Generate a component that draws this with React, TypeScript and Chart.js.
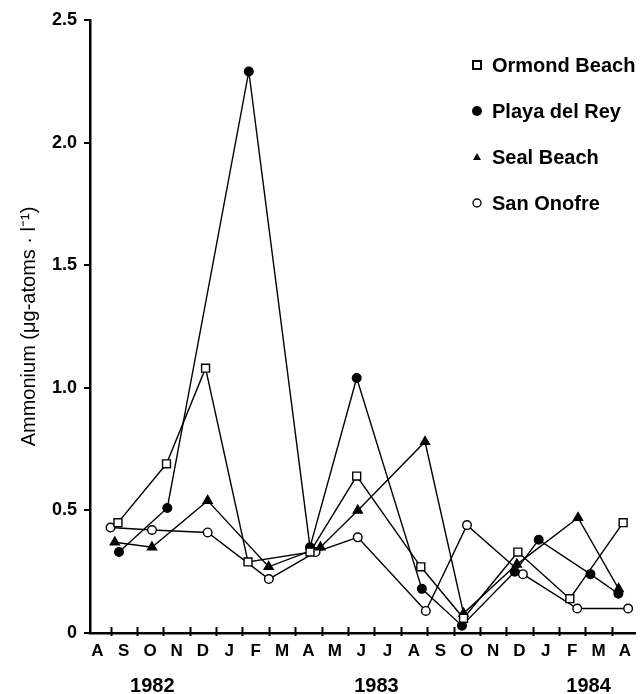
import React, { useEffect, useRef } from 'react';
import { Chart, registerables } from 'chart.js';

Chart.register(...registerables);

// Months from 1 Aug 1982 (0) to Apr 1984; label k sits at the middle of month k
const monthLabels = ['A', 'S', 'O', 'N', 'D', 'J', 'F', 'M', 'A', 'M', 'J', 'J', 'A', 'S', 'O', 'N', 'D', 'J', 'F', 'M', 'A'];
const yearLabels = ['1982', '1983', '1984'];
const yearCenters = [2.58, 11.08, 19.12];
const seriesNames = ['Ormond Beach', 'Playa del Rey', 'Seal Beach', 'San Onofre'];

// sampling dates (months since 1 Aug 1982) and ammonium values
const ormondX = [1.28, 3.12, 4.6, 6.21, 8.56, 10.33, 12.76, 14.38, 16.44, 18.41, 20.43];
const ormondY = [0.45, 0.69, 1.08, 0.29, 0.33, 0.64, 0.27, 0.06, 0.33, 0.14, 0.45];
const playaX = [1.32, 3.15, 6.24, 8.56, 10.33, 12.8, 14.32, 16.32, 17.23, 19.19, 20.25];
const playaY = [0.33, 0.51, 2.29, 0.35, 1.04, 0.18, 0.03, 0.25, 0.38, 0.24, 0.16];
const sealX = [1.16, 2.57, 4.68, 6.99, 8.96, 10.37, 12.92, 14.38, 16.4, 18.72, 20.26];
const sealY = [0.37, 0.35, 0.54, 0.27, 0.35, 0.5, 0.78, 0.08, 0.28, 0.47, 0.18];
const sanX = [1.0, 2.57, 4.68, 7.0, 8.77, 10.37, 12.95, 14.51, 16.63, 18.69, 20.62];
const sanY = [0.43, 0.42, 0.41, 0.22, 0.33, 0.39, 0.09, 0.44, 0.24, 0.1, 0.1];

const FONT = '"Liberation Sans", Arial, Helvetica, sans-serif';

const pts = (xs: number[], ys: number[]) => xs.map((x, i) => ({ x, y: ys[i] }));

const decorPlugin = {
  id: 'decor',
  afterDraw(chart: any) {
    const { ctx, chartArea } = chart;
    const x = chart.scales.x;
    const bottom = chartArea.bottom;
    ctx.save();
    // month boundary tick marks crossing the axis
    ctx.strokeStyle = '#000';
    ctx.lineWidth = 2;
    for (let k = 1; k <= monthLabels.length - 1; k++) {
      const px = Math.round(x.getPixelForValue(k)) + 0.5;
      ctx.beginPath();
      ctx.moveTo(px, bottom - 6);
      ctx.lineTo(px, bottom + 3);
      ctx.stroke();
    }
    // month labels
    ctx.fillStyle = '#000';
    ctx.textAlign = 'center';
    ctx.textBaseline = 'middle';
    ctx.font = `bold 17px ${FONT}`;
    monthLabels.forEach((l, i) => {
      ctx.fillText(l, x.getPixelForValue(i + 0.5), bottom + 18);
    });
    // year labels
    ctx.font = `bold 20px ${FONT}`;
    yearLabels.forEach((l, i) => {
      ctx.fillText(l, x.getPixelForValue(yearCenters[i]), bottom + 53);
    });
    // legend
    ctx.textAlign = 'left';
    ctx.font = `bold 20px ${FONT}`;
    const mx = 477;
    chart.data.datasets.forEach((ds: any, i: number) => {
      const cy = 65 + i * 46;
      ctx.lineWidth = 2;
      ctx.strokeStyle = '#000';
      ctx.fillStyle = '#000';
      if (i === 0) {
        ctx.fillStyle = '#fff';
        ctx.fillRect(mx - 4, cy - 4, 8, 8);
        ctx.strokeRect(mx - 4, cy - 4, 8, 8);
      } else if (i === 1) {
        ctx.beginPath();
        ctx.arc(mx, cy, 5, 0, Math.PI * 2);
        ctx.fill();
      } else if (i === 2) {
        ctx.beginPath();
        ctx.moveTo(mx, cy - 4);
        ctx.lineTo(mx + 4, cy + 3);
        ctx.lineTo(mx - 4, cy + 3);
        ctx.closePath();
        ctx.fill();
      } else {
        ctx.lineWidth = 1.3;
        ctx.beginPath();
        ctx.arc(mx, cy, 4, 0, Math.PI * 2);
        ctx.stroke();
      }
      ctx.fillStyle = '#000';
      ctx.fillText(ds.label, 492, cy + 1);
    });
    ctx.restore();
  },
};

export default function App() {
  const ref = useRef<HTMLCanvasElement | null>(null);

  useEffect(() => {
    if (!ref.current) return;
    const common = {
      borderColor: '#000',
      borderWidth: 1.4,
      pointBorderColor: '#000',
      pointBorderWidth: 1.4,
      tension: 0,
      fill: false,
    };
    const chart = new Chart(ref.current, {
      type: 'line',
      data: {
        datasets: [
          {
            ...common,
            label: seriesNames[0],
            data: pts(ormondX, ormondY),
            pointStyle: 'rect',
            pointRadius: 5.6,
            pointBackgroundColor: '#fff',
          },
          {
            ...common,
            label: seriesNames[1],
            data: pts(playaX, playaY),
            pointStyle: 'circle',
            pointRadius: 4.3,
            pointBackgroundColor: '#000',
          },
          {
            ...common,
            label: seriesNames[2],
            data: pts(sealX, sealY),
            pointStyle: 'triangle',
            pointRadius: 5.2,
            pointBackgroundColor: '#000',
          },
          {
            ...common,
            label: seriesNames[3],
            data: pts(sanX, sanY),
            pointStyle: 'circle',
            pointRadius: 4.3,
            pointBackgroundColor: '#fff',
          },
        ],
      },
      options: {
        animation: false,
        responsive: false,
        devicePixelRatio: 1,
        layout: { padding: { top: 20, left: 0, right: 0, bottom: 0 } },
        plugins: {
          legend: { display: false },
          tooltip: { enabled: false },
        },
        scales: {
          x: {
            type: 'linear',
            min: 0.22,
            max: 20.88,
            afterFit: (s: any) => {
              s.height = 61;
            },
            grid: { display: false },
            border: { display: true, color: '#000', width: 2.5 },
            ticks: { display: false },
          },
          y: {
            type: 'linear',
            min: 0,
            max: 2.5,
            afterFit: (s: any) => {
              s.width = 90;
            },
            ticks: {
              stepSize: 0.5,
              color: '#000',
              padding: 7,
              font: { family: FONT, size: 18, weight: 'bold' },
              callback: (v: any) => (Number(v) === 0 ? '0' : Number(v).toFixed(1)),
            },
            grid: {
              drawOnChartArea: false,
              drawTicks: true,
              tickLength: 6,
              color: '#000',
              lineWidth: 2,
            },
            border: { display: true, color: '#000', width: 2.5 },
            title: {
              display: true,
              text: 'Ammonium (μg-atoms · l⁻¹)',
              color: '#000',
              font: { family: FONT, size: 20, weight: 'normal' },
              padding: { top: 17, bottom: 0 },
            },
          },
        },
      },
      plugins: [decorPlugin],
    } as any);
    return () => chart.destroy();
  }, []);

  return (
    <div style={{ position: 'absolute', left: 0, top: 0, width: 642, height: 694, background: '#fff' }}>
      <canvas ref={ref} width={642} height={694} style={{ display: 'block' }} />
    </div>
  );
}
